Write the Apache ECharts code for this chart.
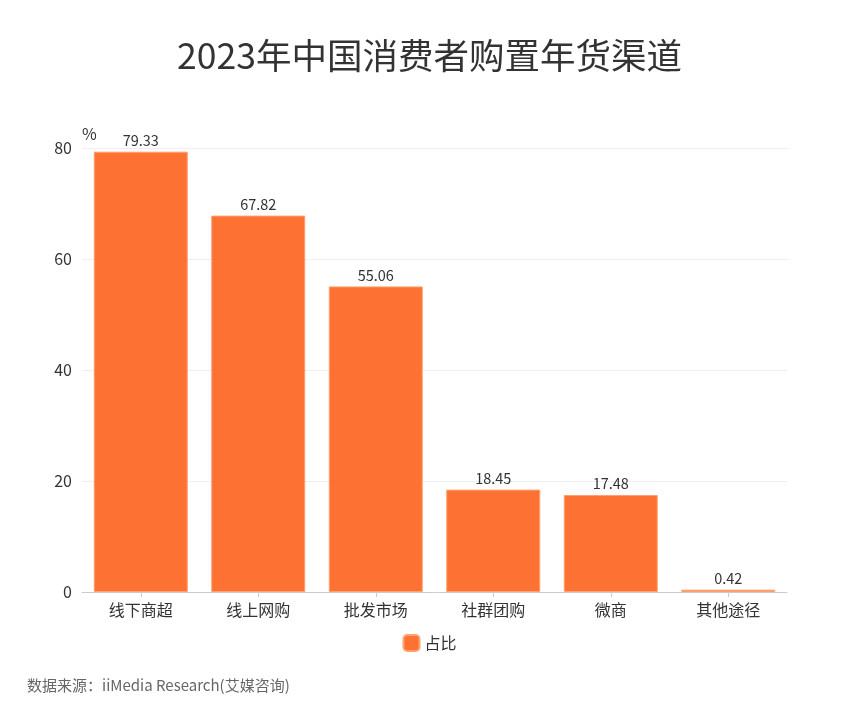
<!DOCTYPE html>
<html><head><meta charset="utf-8">
<script src="https://cdn.jsdelivr.net/npm/echarts@6/dist/echarts.min.js"></script>
<style>html,body{margin:0;padding:0;background:#fff}#c{width:859px;height:709px}</style>
</head><body><div id="c"></div>
<script>
const categories = ['线下商超','线上网购','批发市场','社群团购','微商','其他途径'];
const values = [79.33, 67.82, 55.06, 18.45, 17.48, 0.42];
const seriesName = '占比';
const yTicks = [0, 20, 40, 60, 80];
const font = '"Noto Sans CJK SC", "Noto Sans", sans-serif';
const chart = echarts.init(document.getElementById('c'));
chart.setOption({
  backgroundColor: '#fff',
  textStyle: { fontFamily: font },
  title: { text: '2023年中国消费者购置年货渠道', left: 'center', top: 33,
    textStyle: { fontSize: 35.5, fontWeight: 'normal', color: '#333', fontFamily: font } },
  legend: { data: [seriesName], bottom: 52, left: 'center', itemWidth: 16, itemHeight: 16,
    itemGap: 8, textStyle: { fontSize: 16, color: '#333' }, icon: 'roundRect' },
  graphic: [{ type: 'text', left: 27, top: 678,
    style: { text: '数据来源：iiMedia Research(艾媒咨询)', fontSize: 15, fill: '#666', fontFamily: font } }],
  grid: { left: 82, right: 72, top: 148, bottom: 117 },
  xAxis: { type: 'category', data: categories,
    axisLine: { lineStyle: { color: '#ccc' } },
    axisTick: { show: true, alignWithLabel: true, lineStyle: { color: '#ccc' } },
    axisLabel: { fontSize: 16, color: '#333', margin: 10 } },
  yAxis: { type: 'value', min: 0, max: 80, interval: 20, name: '%',
    nameLocation: 'end', nameGap: 6, nameTextStyle: { fontSize: 16, color: '#333', align: 'left', padding: [0,0,0,0] },
    axisLine: { show: false }, axisTick: { show: false },
    splitLine: { lineStyle: { color: '#eee' } },
    axisLabel: { fontSize: 16, color: '#333', margin: 10,
      formatter: v => yTicks.includes(v) ? String(v) : '' } },
  series: [{ name: seriesName, type: 'bar', data: values, barWidth: '80%',
    itemStyle: { color: '#FD7232', borderColor: '#FFA070', borderWidth: 1 },
    label: { show: true, position: 'top', fontSize: 14.5, color: '#333', distance: 4 } }]
});
</script></body></html>
